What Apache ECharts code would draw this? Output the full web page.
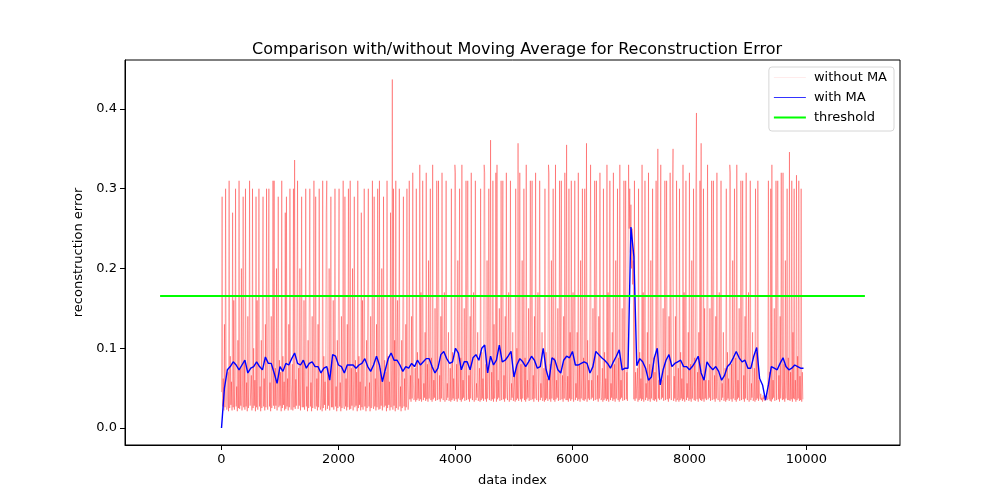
<!DOCTYPE html>
<html><head><meta charset="utf-8">
<script src="https://cdn.jsdelivr.net/npm/echarts@6/dist/echarts.min.js"></script>
<style>html,body{margin:0;padding:0;background:#fff}#c{width:1000px;height:500px}</style>
</head><body><div id="c"></div>
<script>
// ---- data ----
const redStep = 10;   // index spacing of the "without MA" samples (one row = 100 indices)
const redValues = [
  .045,.29,.027,.062,.022,.13,.026,.3,.055,.023,
  .028,.07,.021,.31,.025,.09,.029,.058,.022,.27,
  .026,.16,.023,.065,.3,.027,.052,.021,.11,.025,
  .31,.024,.075,.028,.2,.022,.06,.29,.026,.085,
  .023,.3,.027,.057,.021,.14,.025,.068,.31,.028,
  .027,.066,.022,.3,.025,.1,.028,.06,.021,.29,
  .026,.16,.023,.065,.3,.027,.052,.021,.11,.025,
  .024,.29,.027,.062,.022,.13,.026,.3,.055,.023,
  .023,.3,.027,.057,.021,.14,.025,.068,.31,.028,
  .31,.024,.075,.028,.2,.022,.06,.29,.026,.085,
  .028,.07,.021,.31,.025,.09,.029,.058,.022,.27,
  .024,.29,.027,.062,.022,.13,.026,.3,.055,.023,
  .025,.08,.022,.3,.026,.336,.024,.061,.028,.15,
  .31,.024,.075,.028,.2,.022,.06,.29,.026,.085,
  .026,.16,.023,.065,.3,.027,.052,.021,.11,.025,
  .023,.3,.027,.057,.021,.14,.025,.068,.31,.028,
  .024,.29,.027,.062,.022,.13,.026,.3,.055,.023,
  .028,.07,.021,.31,.025,.09,.029,.058,.022,.27,
  .31,.024,.075,.028,.2,.022,.06,.29,.026,.085,
  .026,.16,.023,.065,.3,.027,.052,.021,.11,.025,
  .023,.3,.027,.057,.021,.14,.025,.068,.31,.028,
  .024,.29,.027,.062,.022,.13,.026,.3,.055,.023,
  .31,.024,.075,.028,.2,.022,.06,.29,.026,.085,
  .028,.07,.021,.31,.025,.09,.029,.058,.022,.27,
  .026,.16,.023,.065,.3,.027,.052,.021,.11,.025,
  .023,.3,.027,.057,.021,.14,.025,.068,.31,.028,
  .024,.29,.027,.062,.022,.13,.026,.3,.055,.023,
  .31,.024,.075,.028,.2,.022,.06,.29,.026,.085,
  .028,.07,.021,.31,.025,.09,.029,.058,.022,.27,
  .026,.072,.437,.023,.3,.028,.11,.021,.31,.025,
  .026,.16,.023,.065,.3,.027,.052,.021,.11,.025,
  .024,.29,.027,.062,.022,.13,.026,.3,.055,.023,
  .034,.31,.036,.066,.033,.14,.037,.32,.058,.035,
  .038,.075,.033,.3,.035,.095,.037,.062,.034,.33,
  .036,.17,.033,.07,.31,.035,.056,.038,.12,.034,
  .32,.036,.08,.033,.21,.037,.064,.3,.035,.088,
  .033,.33,.036,.06,.038,.15,.034,.072,.31,.035,
  .034,.31,.036,.066,.033,.14,.037,.32,.058,.035,
  .036,.17,.033,.07,.31,.035,.056,.038,.12,.034,
  .038,.075,.033,.3,.035,.095,.037,.062,.034,.33,
  .32,.036,.08,.033,.21,.037,.064,.3,.035,.088,
  .033,.33,.036,.06,.038,.15,.034,.072,.31,.035,
  .034,.31,.036,.066,.033,.14,.037,.32,.058,.035,
  .036,.17,.033,.07,.31,.035,.056,.038,.12,.034,
  .038,.075,.033,.3,.035,.095,.037,.062,.034,.33,
  .32,.036,.08,.033,.21,.037,.064,.3,.035,.088,
  .361,.034,.07,.036,.31,.033,.13,.037,.058,.32,
  .033,.33,.036,.06,.038,.15,.034,.072,.31,.035,
  .034,.31,.036,.066,.033,.14,.037,.32,.058,.035,
  .036,.17,.033,.07,.31,.035,.056,.038,.12,.034,
  .036,.068,.033,.3,.035,.1,.037,.357,.034,.061,
  .32,.036,.08,.033,.21,.037,.064,.3,.035,.088,
  .033,.33,.036,.06,.038,.15,.034,.072,.31,.035,
  .034,.31,.036,.066,.033,.14,.037,.32,.058,.035,
  .036,.17,.033,.07,.31,.035,.056,.038,.12,.034,
  .038,.075,.033,.3,.035,.095,.037,.062,.034,.33,
  .32,.036,.08,.033,.21,.037,.064,.3,.035,.088,
  .033,.33,.036,.06,.038,.15,.034,.072,.31,.035,
  .034,.31,.036,.066,.033,.14,.037,.32,.058,.035,
  .355,.035,.065,.033,.3,.037,.12,.034,.31,.036,
  .036,.17,.033,.07,.31,.035,.056,.038,.12,.034,
  .32,.036,.08,.033,.21,.037,.064,.3,.035,.088,
  .034,.3,.036,.07,.357,.033,.11,.037,.06,.035,
  .033,.33,.036,.06,.038,.15,.034,.072,.31,.035,
  .034,.31,.036,.066,.033,.14,.037,.32,.058,.035,
  .038,.075,.033,.3,.035,.095,.037,.062,.034,.33,
  .036,.17,.033,.07,.31,.035,.056,.038,.12,.034,
  .32,.036,.08,.033,.21,.037,.064,.3,.035,.088,
  .033,.33,.036,.06,.038,.15,.034,.072,.31,.035,
  .035,.31,.036,.07,.034,.2,.33,.25,.3,.22,
  .28,.2,.25,.18,.21,.036,.31,.034,.07,.037,
  .038,.075,.033,.3,.035,.095,.037,.062,.034,.33,
  .036,.17,.033,.07,.31,.035,.056,.038,.12,.034,
  .32,.036,.08,.033,.21,.037,.064,.3,.035,.088,
  .034,.07,.036,.31,.033,.12,.35,.037,.06,.035,
  .033,.33,.036,.06,.038,.15,.034,.072,.31,.035,
  .034,.31,.036,.066,.033,.14,.037,.32,.058,.035,
  .036,.3,.35,.034,.065,.037,.14,.033,.31,.035,
  .038,.075,.033,.3,.035,.095,.037,.062,.034,.33,
  .036,.17,.033,.07,.31,.035,.056,.038,.12,.034,
  .32,.036,.08,.033,.21,.037,.064,.3,.035,.088,
  .034,.3,.395,.036,.07,.033,.12,.037,.31,.035,
  .357,.034,.066,.036,.3,.033,.15,.037,.06,.035,
  .033,.33,.036,.06,.038,.15,.034,.072,.31,.035,
  .034,.31,.036,.066,.033,.14,.037,.32,.058,.035,
  .036,.17,.033,.07,.31,.035,.056,.038,.12,.034,
  .038,.075,.033,.3,.035,.095,.037,.062,.034,.33,
  .32,.036,.08,.033,.21,.037,.064,.3,.035,.088,
  .033,.33,.036,.06,.038,.15,.034,.072,.31,.035,
  .034,.31,.036,.066,.033,.14,.037,.32,.058,.035,
  .036,.17,.033,.07,.31,.035,.056,.038,.12,.034,
  .038,.075,.033,.3,.035,.095,.037,.31,.034,.06,
  .04,.036,.043,.035,.038,.033,.041,.036,.039,.034,
  .033,.037,.04,.035,.042,.31,.036,.07,.034,.3,
  .033,.33,.036,.06,.038,.15,.034,.072,.31,.035,
  .034,.31,.036,.066,.033,.14,.037,.32,.058,.035,
  .32,.036,.08,.033,.21,.037,.064,.3,.035,.088,
  .035,.346,.034,.07,.036,.31,.033,.12,.037,.3,
  .036,.06,.033,.317,.035,.09,.037,.31,.034,.065,
  .035,.3,.033,.07,.036
];
const blueStep = 50;  // index spacing of the "with MA" samples
const blueValues = [
  0.0,0.05,0.073,0.077,0.083,0.079,0.073,0.079,0.085,0.069,0.075,0.077,0.083,0.077,0.073,0.089,0.081,0.081,0.069,0.056,
  0.077,0.071,0.081,0.079,0.087,0.094,0.081,0.079,0.085,0.075,0.081,0.083,0.077,0.077,0.069,0.075,0.077,0.060,0.092,0.090,
  0.079,0.077,0.069,0.079,0.079,0.079,0.075,0.079,0.081,0.087,0.077,0.071,0.079,0.090,0.079,0.058,0.073,0.087,0.094,0.085,
  0.085,0.079,0.071,0.077,0.075,0.081,0.077,0.085,0.079,0.083,0.087,0.087,0.077,0.069,0.075,0.092,0.096,0.087,0.081,0.083,
  0.100,0.094,0.073,0.083,0.083,0.073,0.088,0.092,0.085,0.100,0.104,0.069,0.090,0.079,0.085,0.104,0.083,0.085,0.090,0.096,
  0.064,0.079,0.087,0.083,0.077,0.083,0.090,0.085,0.075,0.077,0.100,0.073,0.060,0.088,0.085,0.073,0.069,0.085,0.090,0.088,
  0.096,0.079,0.079,0.081,0.083,0.081,0.069,0.077,0.096,0.092,0.088,0.085,0.081,0.075,0.083,0.090,0.098,0.073,0.075,0.075,
  0.252,0.215,0.078,0.087,0.083,0.075,0.060,0.064,0.088,0.100,0.054,0.073,0.085,0.092,0.077,0.081,0.083,0.085,0.077,0.077,
  0.073,0.077,0.083,0.090,0.069,0.060,0.083,0.077,0.073,0.077,0.071,0.060,0.066,0.077,0.081,0.088,0.096,0.088,0.083,0.085,
  0.075,0.075,0.090,0.101,0.062,0.054,0.035,0.054,0.077,0.075,0.073,0.081,0.088,0.077,0.073,0.075,0.079,0.077,0.075,0.075
];
const thresholdX = [-1050, 11000];
const thresholdValue = 0.1655;
const xTicks = [0, 2000, 4000, 6000, 8000, 10000];
const yTicks = [0.0, 0.1, 0.2, 0.3, 0.4];
const seriesNames = ['without MA', 'with MA', 'threshold'];

// ---- build ----
const redData = redValues.map((v, i) => [i * redStep, v]);
const blueData = blueValues.map((v, i) => [i * blueStep, v]);
const thrData = thresholdX.map(x => [x, thresholdValue]);

const FONT = 'DejaVu Sans';
const chart = echarts.init(document.getElementById('c'), null, {renderer: 'canvas'});
chart.setOption({
  animation: false,
  backgroundColor: '#fff',
  textStyle: {fontFamily: FONT, color: '#000'},
  title: {
    text: 'Comparison with/without Moving Average for Reconstruction Error',
    left: 512, top: 37, textAlign: 'center',
    textStyle: {fontFamily: FONT, fontSize: 16, fontWeight: 'normal', color: '#000'}
  },
  grid: {left: 125, right: 100, top: 60, bottom: 55, show: true, borderColor: '#000', borderWidth: 1, backgroundColor: 'transparent'},
  legend: {
    orient: 'vertical', right: 106, top: 67,
    padding: [4, 7, 7, 4], itemGap: 7, itemWidth: 32, itemHeight: 14,
    backgroundColor: 'rgba(255,255,255,0.8)', borderColor: '#d6d6d6', borderWidth: 1, borderRadius: 3,
    itemStyle: {opacity: 0},
    textStyle: {fontFamily: FONT, fontSize: 13, color: '#000', padding: [0, 0, 0, 3]},
    data: [
      {name: seriesNames[0], lineStyle: {color: 'rgba(255,0,0,0.08)', width: 1}},
      {name: seriesNames[1], lineStyle: {color: '#0000ff', width: 0.8}},
      {name: seriesNames[2], lineStyle: {color: '#00ff00', width: 2}}
    ]
  },
  xAxis: {
    type: 'value', min: -1650, max: 11600,
    name: 'data index', nameLocation: 'middle', nameGap: 29,
    nameTextStyle: {fontFamily: FONT, fontSize: 13, color: '#000'},
    axisLine: {show: true, onZero: false, lineStyle: {color: '#000'}},
    axisTick: {show: true, length: 5, customValues: xTicks, lineStyle: {color: '#000'}},
    axisLabel: {customValues: xTicks, margin: 8, fontFamily: FONT, fontSize: 13, color: '#000',
      formatter: v => String(Math.round(v))},
    splitLine: {show: false}
  },
  yAxis: {
    type: 'value', min: -0.0213, max: 0.4614,
    name: 'reconstruction error', nameLocation: 'middle', nameGap: 40,
    nameTextStyle: {fontFamily: FONT, fontSize: 13, color: '#000'},
    axisLine: {show: true, onZero: false, lineStyle: {color: '#000'}},
    axisTick: {show: true, length: 5, customValues: yTicks, lineStyle: {color: '#000'}},
    axisLabel: {customValues: yTicks, margin: 8, fontFamily: FONT, fontSize: 13, color: '#000',
      formatter: v => v.toFixed(1)},
    splitLine: {show: false}
  },
  series: [
    {name: seriesNames[0], type: 'line', data: redData, showSymbol: false, symbol: 'none',
     color: 'rgba(255,0,0,0.55)', lineStyle: {color: 'rgba(255,0,0,0.55)', width: 0.6}, z: 2},
    {name: seriesNames[1], type: 'line', data: blueData, showSymbol: false, symbol: 'none',
     color: '#0000ff', lineStyle: {color: '#0000ff', width: 1.4}, z: 3},
    {name: seriesNames[2], type: 'line', data: thrData, showSymbol: false, symbol: 'none',
     color: '#00ff00', lineStyle: {color: '#00ff00', width: 2}, z: 4}
  ]
});
</script></body></html>
